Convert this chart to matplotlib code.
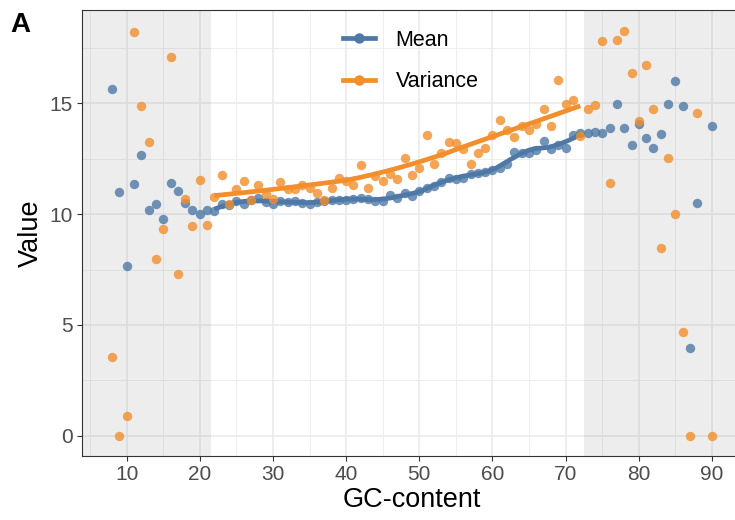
import numpy as np
import matplotlib
matplotlib.use("Agg")
import matplotlib.pyplot as plt
from matplotlib.lines import Line2D

plt.rcParams['font.family'] = ['Liberation Sans', 'DejaVu Sans']

# GC-content bins and per-bin statistics
gc = [8, 9, 10, 11, 12, 13, 14, 15, 16, 17, 18, 19, 20, 21, 22, 23, 24, 25,
      26, 27, 28, 29, 30, 31, 32, 33, 34, 35, 36, 37, 38, 39, 40, 41, 42, 43,
      44, 45, 46, 47, 48, 49, 50, 51, 52, 53, 54, 55, 56, 57, 58, 59, 60, 61,
      62, 63, 64, 65, 66, 67, 68, 69, 70, 71, 72, 73, 74, 75, 76, 77, 78, 79,
      80, 81, 82, 83, 84, 85, 86, 87, 88, 90]

mean_vals = [15.66, 10.99, 7.66, 11.34, 12.66, 10.21, 10.44, 9.77, 11.40, 11.05,
             10.50, 10.18, 10.03, 10.18, 10.15, 10.48, 10.41, 10.60, 10.44, 10.63,
             10.71, 10.56, 10.48, 10.60, 10.56, 10.58, 10.51, 10.45, 10.56, 10.60,
             10.63, 10.63, 10.66, 10.68, 10.74, 10.68, 10.59, 10.59, 10.86, 10.75,
             10.96, 10.81, 11.05, 11.16, 11.27, 11.45, 11.65, 11.59, 11.65, 11.83,
             11.86, 11.90, 11.98, 12.10, 12.28, 12.81, 12.76, 12.76, 12.88, 13.29,
             12.93, 13.11, 12.98, 13.57, 13.65, 13.68, 13.71, 13.66, 13.90, 14.95,
             13.87, 13.12, 14.08, 13.42, 13.00, 13.63, 14.95, 16.00, 14.86, 3.98,
             10.50, 14.00]

var_vals = [3.54, 0.00, 0.87, 18.21, 14.88, 13.27, 7.96, 9.31, 17.09, 7.31,
            10.68, 9.45, 11.55, 9.50, 10.78, 11.79, 10.46, 11.15, 11.50, 10.66,
            11.33, 10.90, 10.70, 11.46, 11.12, 11.12, 11.30, 11.17, 10.95, 10.63,
            11.16, 11.63, 11.49, 11.31, 12.24, 11.19, 11.74, 11.50, 11.80, 11.59,
            12.55, 11.79, 12.09, 13.57, 12.25, 12.76, 13.26, 13.21, 12.93, 12.28,
            12.76, 13.00, 13.59, 14.23, 13.81, 13.48, 13.96, 13.78, 14.08, 14.73,
            13.96, 16.04, 14.98, 15.16, 13.54, 14.73, 14.94, 17.81, 11.41, 17.87,
            18.26, 16.35, 14.20, 16.74, 14.76, 8.47, 12.55, 9.99, 4.67, 0.00,
            14.58, 0.00]

# GC range where the trend is fitted; outside it is shaded
fit_lo, fit_hi = 21.5, 72.5

blue = '#4E79A7'
orange = '#F28E2B'


def loess(x, y, xs, span=0.75, degree=2):
    # local polynomial fit with tricube weights
    n = len(x)
    q = int(np.floor(n * span))
    fitted = []
    for x0 in xs:
        d = np.abs(x - x0)
        h = np.sort(d)[q - 1] * 1.0001
        w = np.clip(1 - (d / h) ** 3, 0, None) ** 3
        A = np.vander(x - x0, degree + 1)
        sw = np.sqrt(w)
        coef = np.linalg.lstsq(A * sw[:, None], y * sw, rcond=None)[0]
        fitted.append(coef[-1])
    return np.array(fitted)


x = np.array(gc, dtype=float)
m = np.array(mean_vals)
v = np.array(var_vals)
inside = (x > fit_lo) & (x < fit_hi)
xs = np.linspace(x[inside].min(), x[inside].max(), 80)
mean_fit = loess(x[inside], m[inside], xs, span=0.25)
var_fit = loess(x[inside], v[inside], xs, span=0.75, degree=1)

fig = plt.figure(figsize=(7.35, 5.2), dpi=100)
ax = fig.add_axes([82 / 735, 64 / 520, 660 / 735, 446 / 520])

ax.set_xlim(3.9, 94.1)
ax.set_ylim(-0.915, 19.215)

# grid
ax.set_axisbelow(True)
ax.set_xticks(range(10, 91, 10))
ax.set_xticks(range(5, 95, 10), minor=True)
ax.set_yticks([0, 5, 10, 15])
ax.set_yticks([2.5, 7.5, 12.5, 17.5], minor=True)
ax.grid(which='major', color='#EBEBEB', lw=1.2)
ax.grid(which='minor', color='#EBEBEB', lw=0.6)

# shaded tails
ax.axvspan(3.9, fit_lo, color='#555555', alpha=0.1, lw=0, zorder=1)
ax.axvspan(fit_hi, 94.1, color='#555555', alpha=0.1, lw=0, zorder=1)

ax.plot(xs, mean_fit, color=blue, lw=3.4, zorder=2, solid_capstyle='butt')
ax.plot(xs, var_fit, color=orange, lw=3.4, zorder=2, solid_capstyle='butt')
ax.scatter(x, m, s=46, color=blue, alpha=0.8, lw=0, zorder=3)
ax.scatter(x, v, s=46, color=orange, alpha=0.8, lw=0, zorder=3)

for sp in ax.spines.values():
    sp.set_color('#333333')
    sp.set_linewidth(0.8)
ax.tick_params(which='major', length=3.5, width=0.8, color='#333333',
               labelcolor='#4D4D4D', labelsize=15, pad=3)
ax.tick_params(which='minor', length=0)

ax.set_xlabel('GC-content', fontsize=19.5, labelpad=2)
ax.set_ylabel('Value', fontsize=19.5, labelpad=4)

handles = [Line2D([], [], color=blue, lw=3.4, marker='o', markersize=6.5),
           Line2D([], [], color=orange, lw=3.4, marker='o', markersize=6.5)]
ax.legend(handles, ['Mean', 'Variance'], loc='upper left',
          bbox_to_anchor=(343 / 735, 1 - 30 / 520), bbox_transform=fig.transFigure,
          frameon=False, fontsize=15.5, handlelength=1.5, handletextpad=0.95,
          labelspacing=0.95, borderpad=0, borderaxespad=0)

fig.text(10 / 735, 1 - 12 / 520, 'A', fontsize=20, fontweight='bold',
         va='top', ha='left')

fig.savefig('out.png', dpi=100)
